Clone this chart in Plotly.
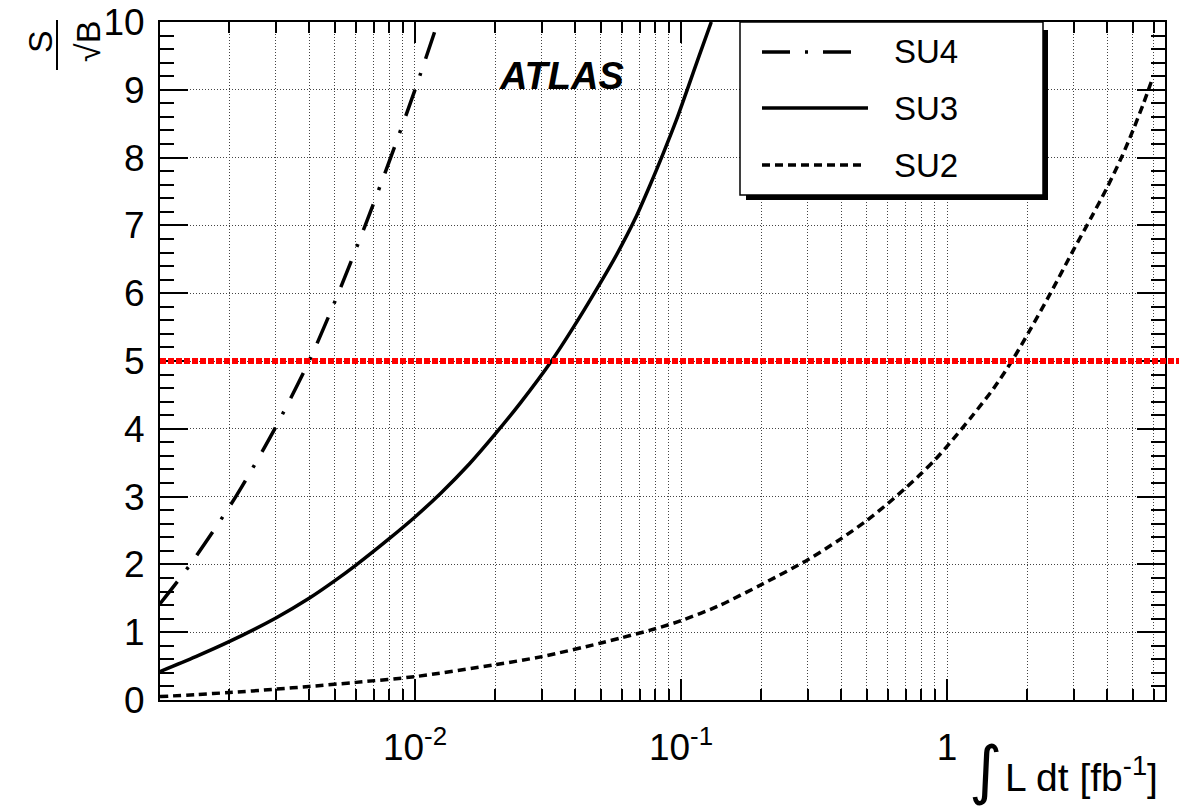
import math
import plotly.graph_objects as go

# Integrated luminosity [fb^-1] and significance S/sqrt(B) for each SUSY point
su4_lumi = [0.0011, 0.00143, 0.00212, 0.00297, 0.0040, 0.00515, 0.0065, 0.0081, 0.0100, 0.0122]
su4_sig = [1.42, 2.0, 3.0, 4.0, 5.0, 6.0, 7.0, 8.0, 9.0, 10.0]

su3_lumi = [0.0011, 0.0015, 0.002, 0.003, 0.004, 0.005, 0.006, 0.008, 0.01, 0.0125,
            0.016, 0.02, 0.025, 0.0326, 0.0396, 0.0477, 0.0575, 0.0673, 0.0766, 0.0859,
            0.0958, 0.1055, 0.117, 0.13]
su3_sig = [0.42, 0.64, 0.86, 1.21, 1.50, 1.76, 1.99, 2.38, 2.70, 3.05,
           3.48, 3.92, 4.39, 5.0, 5.51, 6.03, 6.58, 7.10, 7.60, 8.07,
           8.54, 9.0, 9.5, 10.0]

su2_lumi = [0.0011, 0.0015, 0.002, 0.003, 0.004, 0.006, 0.01, 0.02, 0.03, 0.05,
            0.06, 0.08, 0.1, 0.137, 0.2, 0.3, 0.4, 0.5, 0.6, 0.7,
            0.8, 0.9, 1.0, 1.25, 1.5, 1.76, 2.06, 2.45, 3.0, 3.5,
            4.0, 4.55, 5.0, 5.48, 5.9]
su2_sig = [0.05, 0.08, 0.11, 0.16, 0.20, 0.26, 0.345, 0.52, 0.64, 0.84,
           0.92, 1.05, 1.17, 1.38, 1.70, 2.07, 2.38, 2.65, 2.90, 3.13,
           3.34, 3.54, 3.74, 4.20, 4.60, 5.01, 5.47, 6.0, 6.65, 7.13,
           7.56, 8.02, 8.40, 8.80, 9.15]

discovery_level = 5.0

x_tick_vals = [0.01, 0.1, 1]
x_tick_text = ["10<sup>-2</sup>", "10<sup>-1</sup>", "1"]
legend_names = ["SU4", "SU3", "SU2"]

W, H = 1179, 811
ML, MR, MT, MB = 160, 14, 22, 111
PW, PH = W - ML - MR, H - MT - MB

FONT = "Liberation Sans, Arial, Helvetica, sans-serif"
DASH_SU4 = "28px,15px,3px,15px"
DASH_SU2 = "8px,5px"
LW = 3.5


def px(xp):
    return (xp - ML) / PW


def py(yp):
    return (H - MB - yp) / PH


fig = go.Figure()
fig.add_trace(go.Scatter(x=su4_lumi, y=su4_sig, mode="lines", name="SU4",
                         line=dict(color="black", width=LW, dash=DASH_SU4, shape="spline", smoothing=0.8)))
fig.add_trace(go.Scatter(x=su3_lumi, y=su3_sig, mode="lines", name="SU3",
                         line=dict(color="black", width=LW, shape="spline", smoothing=0.8)))
fig.add_trace(go.Scatter(x=su2_lumi, y=su2_sig, mode="lines", name="SU2",
                         line=dict(color="black", width=LW, dash=DASH_SU2, shape="spline", smoothing=0.8)))

# minor log ticks 2..9 in every decade inside the range
xmin, xmax = 0.0011, 6.6
minor_vals = []
for e in range(-3, 1):
    for k in range(2, 10):
        v = k * 10 ** e
        if xmin <= v <= xmax:
            minor_vals.append(v)

grid = dict(gridcolor="#444", gridwidth=1, griddash="1px,2px")

fig.update_xaxes(type="log", range=[math.log10(xmin), math.log10(xmax)],
                 tickmode="array", tickvals=x_tick_vals, ticktext=x_tick_text,
                 ticks="inside", ticklen=21, tickwidth=1.5, tickcolor="black",
                 showline=True, linecolor="black", linewidth=2, mirror="allticks",
                 showgrid=True, **grid, zeroline=False,
                 tickfont=dict(family=FONT, size=37, color="black"),
                 ticklabelstandoff=14,
                 minor=dict(tickmode="array", tickvals=minor_vals, ticks="inside", ticklen=11,
                            tickwidth=1.5, tickcolor="black", showgrid=True, **grid))
fig.update_yaxes(range=[0, 10], tickmode="linear", tick0=0, dtick=1,
                 ticks="inside", ticklen=28, tickwidth=1.5, tickcolor="black",
                 showline=True, linecolor="black", linewidth=2, mirror="allticks",
                 showgrid=True, **grid, zeroline=False,
                 tickfont=dict(family=FONT, size=37, color="black"),
                 ticklabelstandoff=6,
                 minor=dict(dtick=0.2, ticks="inside", ticklen=14, tickwidth=1.5,
                            tickcolor="black", showgrid=False))

shapes = []
# 5 sigma discovery line
shapes.append(dict(type="line", xref="paper", yref="y", x0=0, x1=px(W), y0=discovery_level, y1=discovery_level,
                   line=dict(color="#ff0000", width=6, dash="6px,2px"), layer="above"))

# legend box with drop shadow
bx0, bx1, by0, by1 = 740, 1043, 22, 195
shapes.append(dict(type="rect", xref="paper", yref="paper", x0=px(bx0 + 6), x1=px(bx1 + 5),
                   y0=py(by1 + 5), y1=py(by0 + 8), fillcolor="black", line=dict(width=0), layer="above"))
shapes.append(dict(type="rect", xref="paper", yref="paper", x0=px(bx0), x1=px(bx1),
                   y0=py(by1), y1=py(by0), fillcolor="white", line=dict(color="black", width=1.5), layer="above"))
entry_y = [52, 108, 165]
entry_dash = [DASH_SU4, "solid", DASH_SU2]
entry_end = [856, 868, 862]
for yy, dsh, xe in zip(entry_y, entry_dash, entry_end):
    shapes.append(dict(type="line", xref="paper", yref="paper", x0=px(762), x1=px(xe), y0=py(yy), y1=py(yy),
                       line=dict(color="black", width=LW, dash=dsh), layer="above"))

# fraction bar of the rotated y title
shapes.append(dict(type="line", xref="paper", yref="paper", x0=px(57), x1=px(57), y0=py(20), y1=py(70),
                   line=dict(color="black", width=2)))

annotations = []
for yy, name in zip(entry_y, legend_names):
    annotations.append(dict(xref="paper", yref="paper", x=px(892), y=py(yy), text=name, showarrow=False,
                            xanchor="left", yanchor="middle", font=dict(family=FONT, size=33, color="black")))

annotations.append(dict(xref="paper", yref="paper", x=px(497), y=py(76), text="<b><i>ATLAS</i></b>",
                        showarrow=False, xanchor="left", yanchor="middle",
                        font=dict(family=FONT, size=38, color="black")))

# x title: integral sign followed by the luminosity label
annotations.append(dict(xref="paper", yref="paper", x=px(985), y=py(770), text="\u222b", showarrow=False,
                        xanchor="center", yanchor="middle", font=dict(family="DejaVu Sans", size=64, color="black")))
annotations.append(dict(xref="paper", yref="paper", x=px(1003), y=py(774), text="L dt [fb<sup>-1</sup>]",
                        showarrow=False, xanchor="left", yanchor="middle",
                        font=dict(family=FONT, size=39, color="black")))

# y title: S over sqrt(B), rotated
annotations.append(dict(xref="paper", yref="paper", x=px(40), y=py(42), text="S", showarrow=False,
                        textangle=-90, xanchor="center", yanchor="middle",
                        font=dict(family=FONT, size=34, color="black")))
annotations.append(dict(xref="paper", yref="paper", x=px(88), y=py(42), text="\u221aB", showarrow=False,
                        textangle=-90, xanchor="center", yanchor="middle",
                        font=dict(family=FONT, size=34, color="black")))

fig.update_layout(width=W, height=H, margin=dict(l=ML, r=MR, t=MT, b=MB, autoexpand=False),
                  paper_bgcolor="white", plot_bgcolor="white", showlegend=False,
                  shapes=shapes, annotations=annotations)

fig.write_html("out.html", config={"displayModeBar": False})
